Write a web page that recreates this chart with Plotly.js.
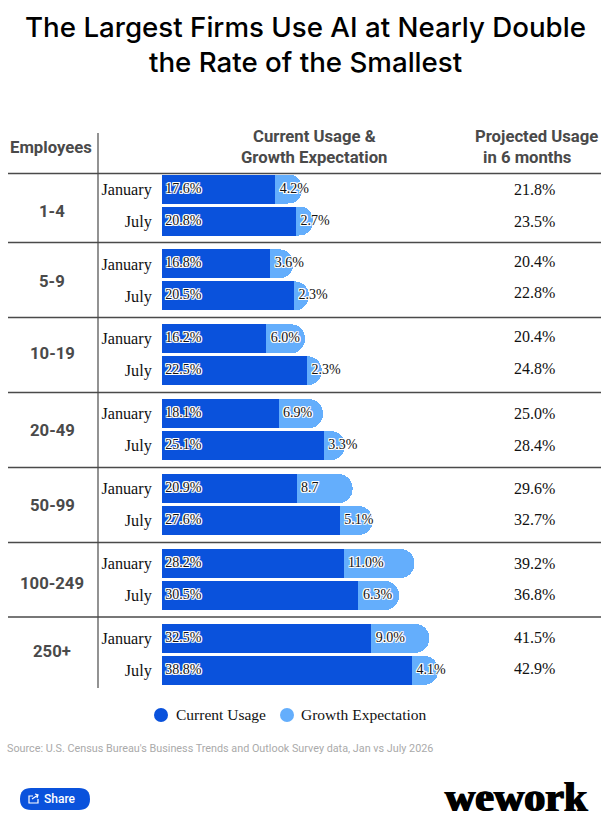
<!DOCTYPE html>
<html>
<head>
<meta charset="utf-8">
<script src="https://cdn.plot.ly/plotly-3.0.1.min.js"></script>
<style>
  html, body { margin: 0; padding: 0; background: #fff; }
</style>
</head>
<body>
<div id="chart"></div>
<script>
const W = 609;
const H = 820;

const sizeGroups = ["1-4", "5-9", "10-19", "20-49", "50-99", "100-249", "250+"];
const months = ["January", "July"];
const currentUsage = [17.6, 20.8, 16.8, 20.5, 16.2, 22.5, 18.1, 25.1, 20.9, 27.6, 28.2, 30.5, 32.5, 38.8];
const growthExpectation = [4.2, 2.7, 3.6, 2.3, 6.0, 2.3, 6.9, 3.3, 8.7, 5.1, 11.0, 6.3, 9.0, 4.1];
const growthLabels = ["4.2%", "2.7%", "3.6%", "2.3%", "6.0%", "2.3%", "6.9%", "3.3%", "8.7", "5.1%", "11.0%", "6.3%", "9.0%", "4.1%"];
const projectedUsage = ["21.8%", "23.5%", "20.4%", "22.8%", "20.4%", "24.8%", "25.0%", "28.4%", "29.6%", "32.7%", "39.2%", "36.8%", "41.5%", "42.9%"];

const SANS = "Roboto, Arial, sans-serif";
const SERIF = "'Liberation Serif', serif";
const BLUE = "#0a52dc";
const LIGHT = "#64aefc";
const HALO = "1px 0 0 #fff, -1px 0 0 #fff, 0 1px 0 #fff, 0 -1px 0 #fff, 1px 1px 0 #fff, -1px -1px 0 #fff, 1px -1px 0 #fff, -1px 1px 0 #fff";

// page pixels to paper coordinates
const px = (x) => x / W;
const py = (y) => 1 - y / H;

// rows sit 32 apart inside a group, groups repeat every 75
const rowPos = currentUsage.map((_, i) => Math.floor(i / 2) * 74.9 + (i % 2) * 32);
const rowMonths = currentUsage.map((_, i) => months[i % 2]);

const barText = {
  family: SERIF,
  size: 14,
  color: "#111",
  shadow: HALO,
};

function barTrace(values, color) {
  return {
    type: "bar",
    orientation: "h",
    y: rowPos,
    x: values,
    width: 29,
    marker: { color },
    hoverinfo: "skip",
    showlegend: false,
  };
}

// labels are their own text traces: inside-bar text gets shrunk on rounded bars
function labelTrace(xs, labels) {
  return {
    type: "scatter",
    mode: "text",
    y: rowPos,
    x: xs,
    text: labels,
    textposition: "middle right",
    textfont: barText,
    cliponaxis: false,
    hoverinfo: "skip",
    showlegend: false,
  };
}

const data = [
  barTrace(currentUsage, BLUE),
  barTrace(growthExpectation, LIGHT),
  labelTrace(currentUsage.map(() => 0.5), currentUsage.map((v) => v.toFixed(1) + "%")),
  labelTrace(currentUsage.map((v) => v + 0.7), growthLabels),
];

const annotations = [];

function addText(text, x, y, font, xanchor) {
  annotations.push({
    text,
    x: px(x),
    y: py(y),
    xref: "paper",
    yref: "paper",
    xanchor: xanchor || "center",
    yanchor: "middle",
    showarrow: false,
    font,
    align: "center",
  });
}

const titleFont = { family: "Inter, sans-serif", size: 27.7, color: "#000", weight: 500 };
const headFont = { family: SANS, size: 16.7, color: "#4a4a4a", weight: 700 };
const legendFont = { family: SERIF, size: 15.5, color: "#111" };

addText("The Largest Firms Use AI at Nearly Double", 305, 27, titleFont);
addText("the Rate of the Smallest", 305, 62, titleFont);

addText("Employees", 51, 148, headFont);
addText("Current Usage &", 314, 136, headFont);
addText("Growth Expectation", 314, 158, headFont);
addText("Projected Usage", 536, 136, headFont);
addText("in 6 months", 527, 158, headFont);

const groupLabelY = [211, 281, 354, 430, 505, 583, 651];
sizeGroups.forEach((g, i) => addText(g, 52, groupLabelY[i], headFont));

// nudges for the right column, it does not line up exactly with the bars
const projectedNudge = [1, 1, -2, -3, -2, -2, 0, 0, 0, -1, 0, -1, -1, -2];
projectedUsage.forEach((p, i) => {
  annotations.push({
    text: p,
    x: px(534),
    y: rowPos[i],
    xref: "paper",
    yref: "y",
    xanchor: "center",
    yshift: -projectedNudge[i],
    showarrow: false,
    font: { family: SERIF, size: 16, color: "#111" },
  });
});

addText("Current Usage", 174, 714, legendFont, "left");
addText("Growth Expectation", 299, 714, legendFont, "left");

addText("Source: U.S. Census Bureau's Business Trends and Outlook Survey data, Jan vs July 2026", 5, 748, { family: SANS, size: 10.8, color: "#aaaaaa" }, "left");
addText("Share", 60, 799, { family: SANS, size: 12, color: "#fff", weight: 500 });
addText("wework", 516, 797, { family: SERIF, size: 42, color: "#000", weight: 700, shadow: "1px 0 0 #000, -1px 0 0 #000" });

const shapes = [];
const ruleY = [173.5, 242.5, 317.5, 392.5, 467.5, 542.5, 617];
ruleY.forEach((y) => {
  shapes.push({
    type: "line",
    xref: "paper",
    yref: "paper",
    x0: px(8),
    x1: px(601),
    y0: py(y),
    y1: py(y),
    line: { color: "#4a4a4a", width: 1.5 },
  });
});
shapes.push({
  type: "line",
  xref: "paper",
  yref: "paper",
  x0: px(98),
  x1: px(98),
  y0: py(133),
  y1: py(688),
  line: { color: "#4a4a4a", width: 1.2 },
});

// legend swatches
[[161, BLUE], [287, LIGHT]].forEach(([cx, color]) => {
  shapes.push({
    type: "circle",
    xref: "paper",
    yref: "paper",
    x0: px(cx - 7),
    x1: px(cx + 7),
    y0: py(722),
    y1: py(708),
    fillcolor: color,
    line: { width: 0 },
  });
});

// share button pill
shapes.push({
  type: "path",
  xref: "paper",
  yref: "paper",
  path: `M${px(31)},${py(788)} L${px(79)},${py(788)} Q${px(90)},${py(788)} ${px(90)},${py(799)} Q${px(90)},${py(810)} ${px(79)},${py(810)} L${px(31)},${py(810)} Q${px(20)},${py(810)} ${px(20)},${py(799)} Q${px(20)},${py(788)} ${px(31)},${py(788)} Z`,
  fillcolor: BLUE,
  line: { width: 0 },
});
// share icon
shapes.push({
  type: "path",
  xref: "paper",
  yref: "paper",
  path: `M${px(33)},${py(796)} L${px(29)},${py(796)} L${px(29)},${py(803)} L${px(38)},${py(803)} L${px(38)},${py(799)} M${px(32)},${py(799)} L${px(38)},${py(795)} M${px(35)},${py(794)} L${px(38)},${py(795)} L${px(37)},${py(798)}`,
  line: { color: "#fff", width: 1.2 },
});

const layout = {
  width: W,
  height: H,
  margin: { l: 0, r: 0, t: 0, b: 0 },
  paper_bgcolor: "#fff",
  plot_bgcolor: "rgba(0,0,0,0)",
  barmode: "stack",
  barcornerradius: 14,
  xaxis: {
    domain: [px(162), 1],
    range: [0, (W - 162) / 6.44],
    visible: false,
    fixedrange: true,
  },
  yaxis: {
    domain: [py(690), py(170)],
    range: [501, -19],
    tickmode: "array",
    tickvals: rowPos,
    ticktext: rowMonths,
    ticks: "outside",
    ticklen: 6,
    tickcolor: "rgba(0,0,0,0)",
    tickfont: { family: SERIF, size: 16.2, color: "#111" },
    showgrid: false,
    zeroline: false,
    showline: false,
    fixedrange: true,
  },
  showlegend: false,
  annotations,
  shapes,
};

Plotly.newPlot("chart", data, layout, { displayModeBar: false, responsive: false });
</script>
</body>
</html>
